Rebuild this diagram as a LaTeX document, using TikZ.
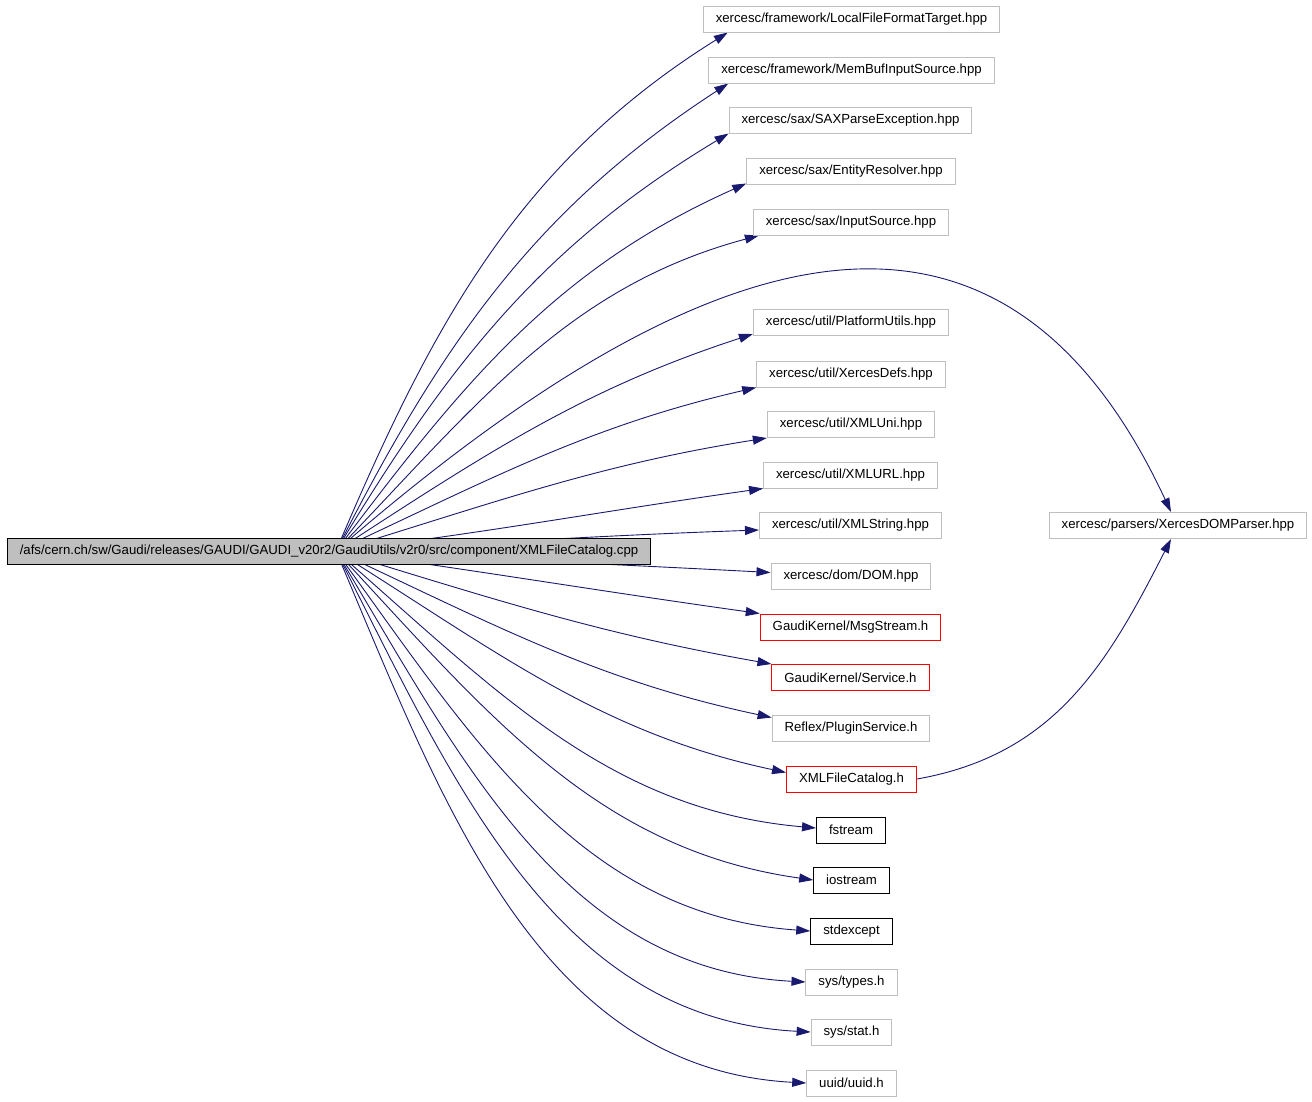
\documentclass[tikz,border=0pt]{standalone}
\usepackage{fontspec}
\setmainfont{Liberation Sans}
\usepackage{tikz}
\usetikzlibrary{positioning,arrows.meta,backgrounds}
\usepackage{xcolor}
\definecolor{dotEdge}{RGB}{25,25,112}
\definecolor{dotGray}{RGB}{191,191,191}
\definecolor{dotRed}{RGB}{255,0,0}
\definecolor{dotFill}{RGB}{191,191,191}

\tikzset{
  hdrbox/.style={draw=dotGray, line width=1pt, minimum height=26pt,
                 inner xsep=12.5pt, inner ysep=0pt},
  redbox/.style={hdrbox, draw=dotRed},
  stdbox/.style={hdrbox, draw=black},
  srcbox/.style={hdrbox, draw=black, fill=dotFill},
  incl/.style={draw=dotEdge, line width=0.9pt,
               -{Triangle[length=14pt,width=9pt]}, fill=none},
}

\begin{document}
\begin{tikzpicture}[x=1pt, y=1pt,
    font=\fontsize{13.2}{16}\selectfont]
    \useasboundingbox (0,0) rectangle (1312,-1101);

    % the file itself
    \node[srcbox] (src) at (329,-551)
      {/afs/cern.ch/sw/Gaudi/releases/GAUDI/GAUDI\_v20r2/GaudiUtils/v2r0/src/component/XMLFileCatalog.cpp};

    % included headers
    \node[hdrbox] (lfft)  at (851.5,-19)   {xercesc/framework/LocalFileFormatTarget.hpp};
    \node[hdrbox] (mbis)  at (851.5,-70)   {xercesc/framework/MemBufInputSource.hpp};
    \node[hdrbox] (spe)   at (850.5,-120)  {xercesc/sax/SAXParseException.hpp};
    \node[hdrbox] (er)    at (851,-171)    {xercesc/sax/EntityResolver.hpp};
    \node[hdrbox] (is)    at (851,-222)    {xercesc/sax/InputSource.hpp};
    \node[hdrbox] (pu)    at (851,-322.5)  {xercesc/util/PlatformUtils.hpp};
    \node[hdrbox] (xd)    at (851,-374)    {xercesc/util/XercesDefs.hpp};
    \node[hdrbox] (xuni)  at (851,-424.5)  {xercesc/util/XMLUni.hpp};
    \node[hdrbox] (xurl)  at (850.5,-475)  {xercesc/util/XMLURL.hpp};
    \node[hdrbox] (xstr)  at (850.5,-525.5){xercesc/util/XMLString.hpp};
    \node[hdrbox] (dom)   at (851,-576)    {xercesc/dom/DOM.hpp};
    \node[redbox] (msg)   at (850.5,-627)  {GaudiKernel/MsgStream.h};
    \node[redbox] (serv)  at (850.5,-677.5){GaudiKernel/Service.h};
    \node[hdrbox] (plug)  at (851,-728)    {Reflex/PluginService.h};
    \node[redbox] (xfch)  at (851.5,-779)  {XMLFileCatalog.h};
    \node[stdbox] (fst)   at (851,-830)    {fstream};
    \node[stdbox] (ios)   at (851.5,-880)  {iostream};
    \node[stdbox] (stdx)  at (851.5,-931)  {stdexcept};
    \node[hdrbox] (types) at (851.5,-982)  {sys/types.h};
    \node[hdrbox] (stat)  at (851.5,-1032) {sys/stat.h};
    \node[hdrbox] (uuid)  at (851.5,-1083) {uuid/uuid.h};
    \node[hdrbox] (domp)  at (1178,-525.5) {xercesc/parsers/XercesDOMParser.hpp};

    \begin{scope}[on background layer]
      \fill[white] (0,0) rectangle (1312,-1101);
      % fan of includes
      \draw[incl] ([xshift=7pt]src.center) .. controls +(67:247) and +(212:247) .. ([xshift=25pt]lfft.south west);
      \draw[incl] ([xshift=7pt]src.center) .. controls +(63:232) and +(213:232) .. ([xshift=20pt]mbis.south west);
      \draw[incl] ([xshift=7pt]src.center) .. controls +(59:218) and +(211:218) .. (spe.south west);
      \draw[incl] ([xshift=7pt]src.center) .. controls +(53:210) and +(204:210) .. ([yshift=1pt]er.south west);
      \draw[incl] ([xshift=7pt]src.center) .. controls +(46:200) and +(195:200) .. ([xshift=6pt]is.south west);
      \draw[incl] ([xshift=7pt]src.center) .. controls +(41:500) and +(115:400) .. ([xshift=-7pt]domp.north);
      \draw[incl] ([xshift=7pt]src.center) .. controls +(33:179) and +(198:179) .. ([yshift=2pt]pu.south west);
      \draw[incl] ([xshift=7pt]src.center) .. controls +(25:172) and +(193:172) .. (xd.south west);
      \draw[incl] ([xshift=7pt]src.center) .. controls +(17:170) and +(189:170) .. (xuni.south west);
      \draw[incl] ([xshift=7pt]src.center) .. controls +(7:165) and +(188:165) .. (xurl.south west);
      \draw[incl] ([xshift=7pt]src.center) .. controls +(3:160) and +(182:160) .. ([yshift=9pt]xstr.south west);
      \draw[incl] ([xshift=7pt]src.center) .. controls +(-3:165) and +(177:165) .. ([yshift=-10pt]dom.north west);
      \draw[incl] ([xshift=7pt]src.center) .. controls +(-8:163) and +(172:163) .. (msg.north west);
      \draw[incl] ([xshift=7pt]src.center) .. controls +(-17:172) and +(170:172) .. (serv.north west);
      \draw[incl] ([xshift=7pt]src.center) .. controls +(-25:178) and +(168:178) .. ([yshift=-3pt]plug.north west);
      \draw[incl] ([xshift=7pt]src.center) .. controls +(-32:190) and +(168:190) .. ([yshift=-7pt]xfch.north west);
      \draw[incl] ([xshift=7pt]src.center) .. controls +(-41:210) and +(175:210) .. ([yshift=2pt]fst.west);
      \draw[incl] ([xshift=7pt]src.center) .. controls +(-47:220) and +(172:220) .. (ios.west);
      \draw[incl] ([xshift=7pt]src.center) .. controls +(-54:231) and +(176:231) .. (stdx.west);
      \draw[incl] ([xshift=7pt]src.center) .. controls +(-59:242) and +(177:242) .. (types.west);
      \draw[incl] ([xshift=7pt]src.center) .. controls +(-63:257) and +(177:257) .. (stat.west);
      \draw[incl] ([xshift=7pt]src.center) .. controls +(-67:270) and +(177:270) .. (uuid.west);
      % header to parser
      \draw[incl] (xfch.east) .. controls +(10:140) and +(243:140) .. ([xshift=-7pt]domp.south);
    \end{scope}
  \end{tikzpicture}
\end{document}
